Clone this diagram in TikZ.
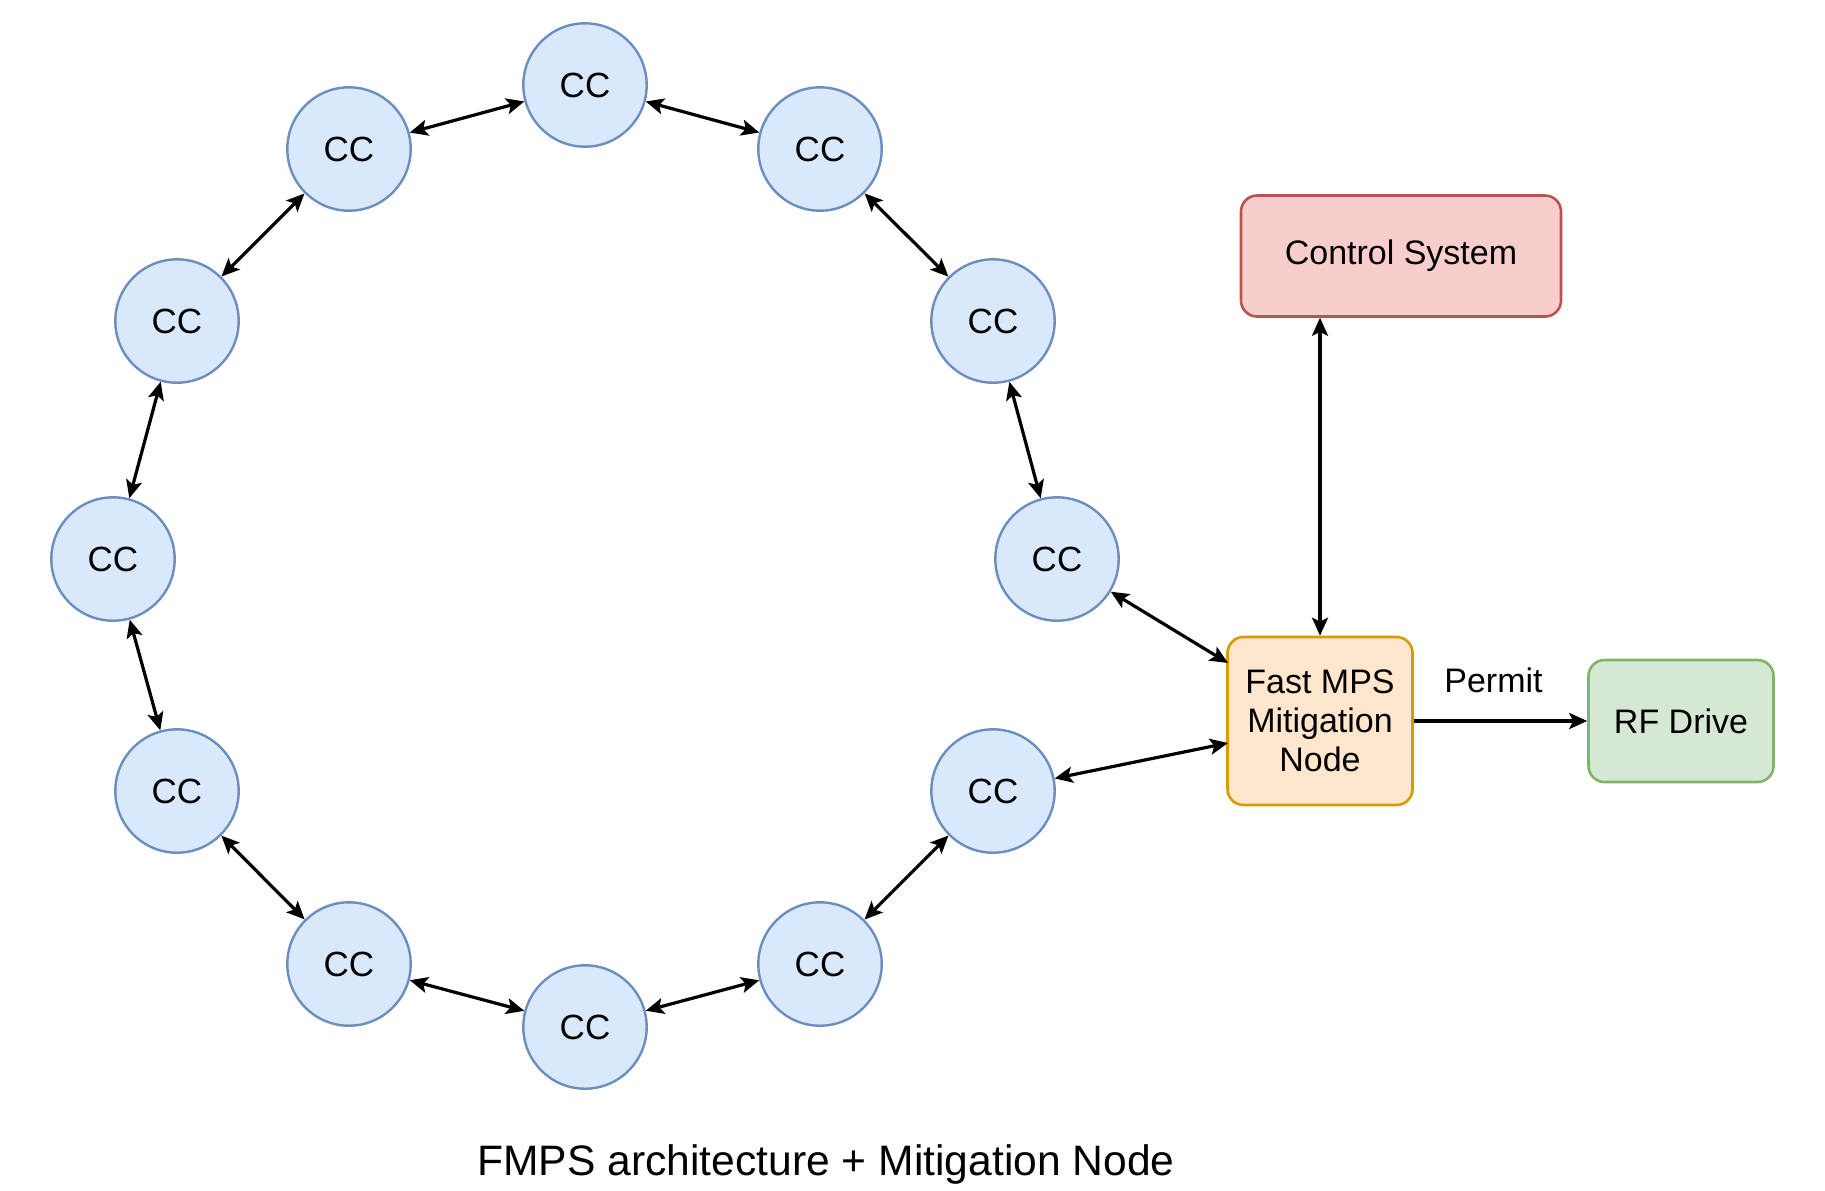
\documentclass[tikz,border=0pt]{standalone}
\usepackage{fontspec}
\setmainfont{Liberation Sans}
\usetikzlibrary{arrows.meta}

\definecolor{ccfill}{RGB}{218,232,252}
\definecolor{ccline}{RGB}{108,142,191}
\definecolor{csfill}{RGB}{248,206,204}
\definecolor{csline}{RGB}{184,84,80}
\definecolor{mnfill}{RGB}{255,230,204}
\definecolor{mnline}{RGB}{215,155,0}
\definecolor{rffill}{RGB}{213,232,212}
\definecolor{rfline}{RGB}{130,179,102}

\tikzset{every picture/.style={line width=0.75pt}}
\tikzset{
  ccnode/.style={circle, draw=ccline, fill=ccfill, line width=1.2pt, minimum size=61.7pt, inner sep=0pt, font=\fontsize{17.5}{20}\selectfont},
  boxnode/.style={rounded corners=8pt, line width=1.3pt, align=center, inner sep=0pt, font=\fontsize{17}{19.5}\selectfont},
  link/.style={line width=1.6pt, {Stealth[length=9pt,width=8pt,inset=2pt]}-{Stealth[length=9pt,width=8pt,inset=2pt]}},
  onelink/.style={line width=1.6pt, -{Stealth[length=9pt,width=8pt,inset=2pt]}}
}

\begin{document}
\begin{tikzpicture}[x=0.5pt,y=0.5pt,yscale=-1,xscale=1]
	\useasboundingbox (0,0) rectangle (1825,1190);

	% CC ring
	\node [ccnode] (cc1) at (585,85) {CC};
	\node [ccnode] (cc2) at (820,149) {CC};
	\node [ccnode] (cc3) at (993,321) {CC};
	\node [ccnode] (cc4) at (1057,559) {CC};
	\node [ccnode] (cc5) at (993,791) {CC};
	\node [ccnode] (cc6) at (820,964) {CC};
	\node [ccnode] (cc7) at (585,1027) {CC};
	\node [ccnode] (cc8) at (349,964) {CC};
	\node [ccnode] (cc9) at (177,791) {CC};
	\node [ccnode] (cc10) at (113,559) {CC};
	\node [ccnode] (cc11) at (177,321) {CC};
	\node [ccnode] (cc12) at (349,149) {CC};

	% Boxes
	\node [boxnode, draw=csline, fill=csfill, minimum width=160pt, minimum height=60.5pt] (ctrl) at (1401,256) {Control System};
	\node [boxnode, draw=mnline, fill=mnfill, minimum width=92.5pt, minimum height=84pt] (fmps) at (1320,721) {Fast MPS\\Mitigation\\Node};
	\node [boxnode, draw=rfline, fill=rffill, minimum width=92.5pt, minimum height=61pt] (rf) at (1681,721) {RF Drive};

	% Links round the ring
	\foreach \a/\b in {cc1/cc2, cc2/cc3, cc3/cc4, cc5/cc6, cc6/cc7, cc7/cc8, cc8/cc9, cc9/cc10, cc10/cc11, cc11/cc12, cc12/cc1}
		\draw [link] (\a) -- (\b);

	% Links to the mitigation node
	\coordinate (fin1) at (1228,663);
	\coordinate (fin2) at (1228,743);
	\draw [link] (cc4) -- (fin1);
	\draw [link] (cc5) -- (fin2);
	\draw [link] (fmps.north) -- (fmps.north |- ctrl.south);
	\draw [onelink] (fmps) -- node [above=10pt, xshift=-3.5pt, font=\fontsize{17}{19.5}\selectfont] (permit) {Permit} (rf);

	% Caption
	\node [font=\fontsize{21.3}{25}\selectfont] (caption) at (826,1164) {FMPS architecture + Mitigation Node};

\end{tikzpicture}
\end{document}
